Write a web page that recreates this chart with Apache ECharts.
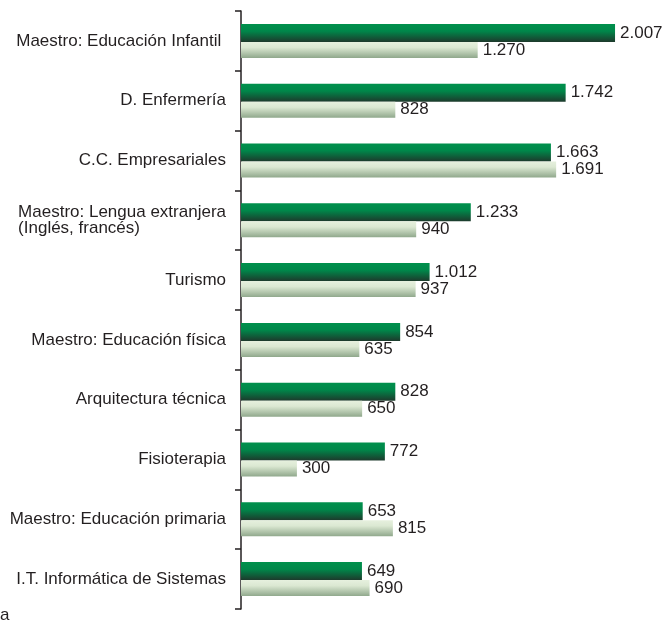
<!DOCTYPE html>
<html>
<head>
<meta charset="utf-8">
<script src="https://cdn.jsdelivr.net/npm/echarts@6/dist/echarts.min.js"></script>
<style>
html,body{margin:0;padding:0;background:#fff;}
#chart{width:665px;height:625px;}
</style>
</head>
<body>
<div id="chart"></div>
<script>
var categories = [
  'Maestro: Educación Infantil ',
  'D. Enfermería',
  'C.C. Empresariales',
  'Maestro: Lengua extranjera\n(Inglés, francés)',
  'Turismo',
  'Maestro: Educación física',
  'Arquitectura técnica',
  'Fisioterapia',
  'Maestro: Educación primaria',
  'I.T. Informática de Sistemas'
];
var seriesA = [2007, 1742, 1663, 1233, 1012, 854, 828, 772, 653, 649];
var seriesB = [1270, 828, 1691, 940, 937, 635, 650, 300, 815, 690];
var footnote = 'a';

function fmt(v) {
  return String(v).replace(/\B(?=(\d{3})+(?!\d))/g, '.');
}

var font = 'Liberation Sans, Arial, sans-serif';
var textColor = '#231f20';

var chart = echarts.init(document.getElementById('chart'), null, {renderer: 'canvas'});
chart.setOption({
  animation: false,
  backgroundColor: '#ffffff',
  grid: {left: 241, top: 11, height: 598, right: 14, containLabel: false},
  xAxis: {
    type: 'value', min: 0, max: 2200, show: false
  },
  yAxis: {
    type: 'category',
    data: categories,
    inverse: true,
    axisLine: {show: true, lineStyle: {color: '#231f20', width: 1.5}},
    axisTick: {show: true, length: 6, lineStyle: {color: '#231f20', width: 1.5}},
    splitLine: {show: false},
    axisLabel: {
      margin: 15,
      color: textColor,
      fontFamily: font,
      fontSize: 17,
      lineHeight: 16,
      formatter: function (v) {
        return v.split('\n').map(function (s) { return '{l|' + s + '}'; }).join('\n');
      },
      rich: {
        l: {align: 'left', fontFamily: font, fontSize: 17, lineHeight: 16, color: textColor}
      }
    }
  },
  series: [
    {
      name: 'Serie A',
      type: 'bar',
      data: seriesA,
      barWidth: 18,
      barGap: '0%',
      itemStyle: {
        color: new echarts.graphic.LinearGradient(0, 0, 0, 1, [
          {offset: 0, color: '#00904c'},
          {offset: 0.4, color: '#00874a'},
          {offset: 1, color: '#1d3a2c'}
        ])
      },
      label: {
        show: true, position: 'right', distance: 5,
        color: textColor, fontFamily: font, fontSize: 17,
        formatter: function (p) { return fmt(p.value); }
      }
    },
    {
      name: 'Serie B',
      type: 'bar',
      data: seriesB,
      barWidth: 16,
      barGap: '0%',
      itemStyle: {
        color: new echarts.graphic.LinearGradient(0, 0, 0, 1, [
          {offset: 0, color: '#e6f0de'},
          {offset: 0.35, color: '#dbe8d2'},
          {offset: 1, color: '#90a88c'}
        ])
      },
      label: {
        show: true, position: 'right', distance: 5,
        color: textColor, fontFamily: font, fontSize: 17,
        formatter: function (p) { return fmt(p.value); }
      }
    }
  ],
  graphic: [
    {
      type: 'text', left: 0, top: 607,
      style: {text: footnote, fill: textColor, font: '17px ' + font}
    }
  ]
});
</script>
</body>
</html>
